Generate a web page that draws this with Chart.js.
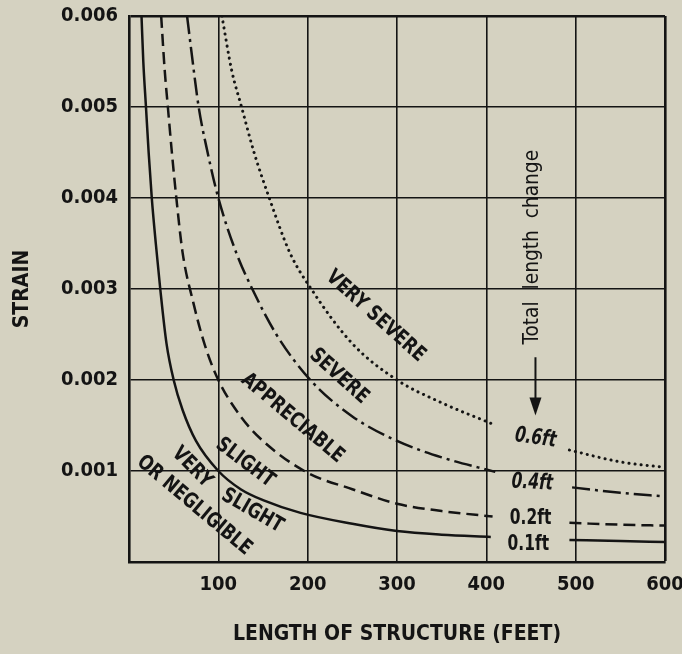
<!DOCTYPE html>
<html>
<head>
<meta charset="utf-8">
<script src="https://cdn.jsdelivr.net/npm/chart.js@4.4.1/dist/chart.umd.min.js"></script>
<style>
  html, body { margin: 0; padding: 0; background: #d5d2c1; }
  #wrap { width: 682px; height: 654px; }
</style>
</head>
<body>
<div id="wrap"><canvas id="chart"></canvas></div>
<script>
// length of structure (ft) and strain; null = gap for the label
const lengths01 = [14, 16, 19, 22, 25.5, 30, 35, 42, 50, 60, 75, 100, 125, 150, 192, 250, 300, 350, 405, 450, 493, 550, 600];
const strain01 = [0.006, 0.0055, 0.005, 0.0045, 0.004, 0.0035, 0.003, 0.0024, 0.002, 0.00167, 0.00133, 0.001, 0.0008, 0.00068, 0.00054, 0.00042, 0.00034, 0.0003, 0.000276, null, 0.000243, 0.00023, 0.00022];

const lengths02 = [36, 40, 43.5, 48, 53, 60, 72, 85, 100, 125, 150, 200, 250, 300, 350, 407, 450, 493, 550, 600];
const strain02 = [0.006, 0.0054, 0.005, 0.0045, 0.004, 0.0034, 0.00285, 0.00238, 0.002, 0.0016, 0.00133, 0.00098, 0.0008, 0.00064, 0.00056, 0.0005, null, 0.00043, 0.00041, 0.0004];

const lengths04 = [65, 70, 78, 88, 100, 120, 138, 165, 203, 250, 300, 350, 410, 450, 496, 550, 600];
const strain04 = [0.006, 0.0056, 0.005, 0.0045, 0.004, 0.0034, 0.003, 0.0025, 0.002, 0.0016, 0.00133, 0.00115, 0.00099, null, 0.00082, 0.00076, 0.00072];

const lengths06 = [104, 115, 126, 140, 157, 180, 204, 250, 300, 350, 411, 450, 493, 550, 600];
const strain06 = [0.006, 0.0054, 0.005, 0.0045, 0.004, 0.0034, 0.003, 0.0024, 0.002, 0.00175, 0.0015, null, 0.00123, 0.0011, 0.00104];

const xTicks = [100, 200, 300, 400, 500, 600];
const yTicks = [0.001, 0.002, 0.003, 0.004, 0.005, 0.006];

const NARROW = '"Liberation Sans Narrow", "DejaVu Sans Condensed", "Arial Narrow", sans-serif';
const INK = '#141414';

// text on the plot, placed in data units
const regionLabels = [
    { text: 'VERY SEVERE', x: 276, y: 0.0027, angle: 42 },
    { text: 'SEVERE', x: 235, y: 0.00204, angle: 42 },
    { text: 'APPRECIABLE', x: 183, y: 0.00158, angle: 40 },
    { text: 'SLIGHT', x: 130, y: 0.00109, angle: 37 },
    { text: 'VERY', x: 70.5, y: 0.00104, angle: 45 },
    { text: 'SLIGHT', x: 138, y: 0.00056, angle: 30 },
    { text: 'OR NEGLIGIBLE', x: 73, y: 0.00062, angle: 40 }
];
const curveLabels = [
    { text: '0.6ft', x: 455, y: 0.00136, angle: 8, italic: true },
    { text: '0.4ft', x: 451.5, y: 0.00087, angle: 3, italic: true },
    { text: '0.2ft', x: 449.5, y: 0.000485, angle: 0, italic: false },
    { text: '0.1ft', x: 447, y: 0.0002, angle: 0, italic: false }
];

function pts(xs, ys) {
    return xs.map((x, i) => ({ x: x, y: ys[i] }));
}

// rotated text, squeezed along its baseline
function putText(ctx, text, px, py, angle, font, squeeze) {
    ctx.save();
    ctx.translate(px, py);
    ctx.rotate(angle * Math.PI / 180);
    ctx.scale(squeeze, 1);
    ctx.font = font;
    ctx.fillText(text, 0, 0);
    ctx.restore();
}

const bgPlugin = {
    id: 'bg',
    beforeDraw(chart) {
        const ctx = chart.ctx;
        ctx.save();
        ctx.fillStyle = '#d5d2c1';
        ctx.fillRect(0, 0, chart.width, chart.height);
        ctx.restore();
    }
};

const notesPlugin = {
    id: 'notes',
    afterDraw(chart) {
        const ctx = chart.ctx;
        const sx = chart.scales.x, sy = chart.scales.y;
        ctx.save();
        ctx.fillStyle = INK;
        ctx.textAlign = 'center';
        ctx.textBaseline = 'middle';

        regionLabels.forEach(l => {
            putText(ctx, l.text, sx.getPixelForValue(l.x), sy.getPixelForValue(l.y),
                l.angle, 'bold 21px ' + NARROW, 0.88);
        });

        curveLabels.forEach(l => {
            putText(ctx, l.text, sx.getPixelForValue(l.x), sy.getPixelForValue(l.y),
                l.angle, (l.italic ? 'italic ' : '') + 'bold 22px ' + NARROW, 0.78);
        });

        // "Total length change" + arrow
        putText(ctx, 'Total  length  change', sx.getPixelForValue(451.5), sy.getPixelForValue(0.00346),
            -90, '22px ' + NARROW, 0.94);

        const ax = sx.getPixelForValue(455);
        const y1 = sy.getPixelForValue(0.00225);
        const y2 = sy.getPixelForValue(0.00161);
        ctx.strokeStyle = INK;
        ctx.lineWidth = 2;
        ctx.beginPath();
        ctx.moveTo(ax, y1);
        ctx.lineTo(ax, y2 - 12);
        ctx.stroke();
        ctx.beginPath();
        ctx.moveTo(ax - 6, y2 - 18);
        ctx.lineTo(ax + 6, y2 - 18);
        ctx.lineTo(ax, y2);
        ctx.closePath();
        ctx.fill();

        ctx.restore();
    }
};

const edge = (v, max) => (v === max ? 2.6 : 1.6);
const noPad = scale => {
    scale.paddingTop = 0;
    scale.paddingBottom = 0;
    scale.paddingLeft = 0;
    scale.paddingRight = 0;
};

new Chart(document.getElementById('chart'), {
    type: 'line',
    data: {
        datasets: [
            { label: '0.1ft', data: pts(lengths01, strain01), borderColor: INK, borderWidth: 2.5 },
            { label: '0.2ft', data: pts(lengths02, strain02), borderColor: INK, borderWidth: 2.5, borderDash: [12, 6] },
            { label: '0.4ft', data: pts(lengths04, strain04), borderColor: INK, borderWidth: 2.5, borderDash: [18, 5, 3, 5] },
            { label: '0.6ft', data: pts(lengths06, strain06), borderColor: INK, borderWidth: 3, borderDash: [0.1, 6], borderCapStyle: 'round' }
        ]
    },
    options: {
        responsive: true,
        maintainAspectRatio: false,
        animation: false,
        layout: { padding: { top: 16, right: 17, left: 0, bottom: 0 } },
        datasets: {
            line: {
                pointRadius: 0,
                cubicInterpolationMode: 'monotone',
                spanGaps: false
            }
        },
        plugins: {
            legend: { display: false },
            tooltip: { enabled: false }
        },
        scales: {
            x: {
                type: 'linear',
                min: 0,
                max: 600,
                afterFit(scale) { scale.height = 92; noPad(scale); },
                afterBuildTicks(scale) {
                    scale.ticks = [0].concat(xTicks).map(v => ({ value: v }));
                },
                grid: {
                    color: INK,
                    lineWidth: c => edge(c.tick.value, 600),
                    drawTicks: false
                },
                border: { display: true, color: INK, width: 2.6 },
                ticks: {
                    padding: 11,
                    color: INK,
                    font: { family: NARROW, size: 20, weight: 'bold' },
                    callback: v => (v === 0 ? '' : String(v))
                },
                title: {
                    display: true,
                    text: 'LENGTH OF STRUCTURE (FEET)',
                    color: INK,
                    font: { family: NARROW, size: 21, weight: 'bold' },
                    padding: { top: 0, bottom: 7 }
                }
            },
            y: {
                min: 0,
                max: 0.006,
                afterFit(scale) { scale.width = 129; noPad(scale); },
                afterBuildTicks(scale) {
                    scale.ticks = [0].concat(yTicks).map(v => ({ value: v }));
                },
                grid: {
                    color: INK,
                    lineWidth: c => edge(c.tick.value, 0.006),
                    drawTicks: false
                },
                border: { display: true, color: INK, width: 2.6 },
                ticks: {
                    padding: 11,
                    color: INK,
                    font: { family: NARROW, size: 20, weight: 'bold' },
                    callback: v => (v === 0 ? '' : v.toFixed(3))
                },
                title: {
                    display: true,
                    text: 'STRAIN',
                    color: INK,
                    font: { family: NARROW, size: 21, weight: 'bold' },
                    padding: { top: 10, bottom: 0 }
                }
            }
        }
    },
    plugins: [bgPlugin, notesPlugin]
});
</script>
</body>
</html>
